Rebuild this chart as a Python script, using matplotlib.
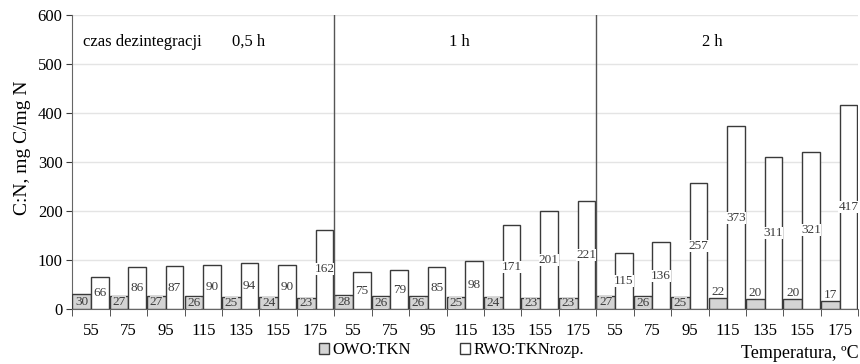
import matplotlib.pyplot as plt
import numpy as np

plt.rcParams["font.family"] = ["Liberation Serif", "DejaVu Serif"]

temperatures = [55, 75, 95, 115, 135, 155, 175]
durations = ["0,5 h", "1 h", "2 h"]
owo_tkn = [30, 27, 27, 26, 25, 24, 23,
           28, 26, 26, 25, 24, 23, 23,
           27, 26, 25, 22, 20, 20, 17]
rwo_tkn = [66, 86, 87, 90, 94, 90, 162,
           75, 79, 85, 98, 171, 201, 221,
           115, 136, 257, 373, 311, 321, 417]

edge = "#3a3a3a"
gray_fill = "#d4d4d4"

fig = plt.figure(figsize=(8.6, 3.64), dpi=100)
ax = fig.add_axes([0.084, 0.151, 0.914, 0.808])

n = len(owo_tkn)
x = np.arange(n)
ax.bar(x, owo_tkn, width=0.5, align="edge", color=gray_fill,
       edgecolor=edge, linewidth=1.0, zorder=3, label="OWO:TKN")
ax.bar(x + 0.5, rwo_tkn, width=0.47, align="edge", color="white",
       edgecolor=edge, linewidth=1.0, zorder=3, label="RWO:TKNrozp.")

label_kw = dict(ha="center", va="center", fontsize=9.5, color="#3c3c3c",
                zorder=5)
for i, v in enumerate(owo_tkn):
    if v <= 22:
        ax.text(i + 0.25, v + 12, str(v), **label_kw)
    else:
        ax.text(i + 0.25, v / 2, str(v),
                bbox=dict(facecolor=gray_fill, edgecolor="none", pad=0.0),
                **label_kw)
for i, v in enumerate(rwo_tkn):
    ax.text(i + 0.735, v / 2, str(v),
            bbox=dict(facecolor="white", edgecolor="none", pad=0.0),
            **label_kw)

# duration group separators
group = len(temperatures)
for b in range(1, len(durations)):
    ax.axvline(b * group, color="#555555", linewidth=1.0, zorder=4)

ax.set_xlim(0, n)
ax.set_ylim(0, 600)
ax.set_yticks(range(0, 601, 100))
ax.yaxis.grid(True, color="#e4e4e4", linewidth=1.0, zorder=0)
ax.set_xticks(x + 0.5)
ax.set_xticklabels([str(t) for t in temperatures] * len(durations))
ax.set_xticks(np.arange(n + 1), minor=True)
ax.tick_params(axis="x", which="major", length=0, pad=10, labelsize=12)
ax.tick_params(axis="x", which="minor", length=5, color=edge, direction="out")
ax.tick_params(axis="y", length=4, color=edge, labelsize=12, pad=3)

for side in ["top", "right"]:
    ax.spines[side].set_visible(False)
ax.spines["left"].set_color("#666666")
ax.spines["bottom"].set_color("#666666")
ax.axhline(600, color="#d0d0d0", linewidth=1.2, zorder=1)

ax.set_ylabel("C:N, mg C/mg N", fontsize=14, labelpad=4)
ax.yaxis.set_label_coords(-0.052, 0.55)

ax.text(0.3, 545, "czas dezintegracji", fontsize=12, va="center")
header_x = [4.7, 10.35, 17.1]
for xc, d in zip(header_x, durations):
    ax.text(xc, 545, d, fontsize=12, va="center", ha="center")

fig.legend(loc="lower center", bbox_to_anchor=(0.525, -0.025), ncol=2,
           frameon=False, fontsize=12, handlelength=0.6, handleheight=0.6,
           handletextpad=0.2, columnspacing=3.0)
fig.text(0.998, 0.005, "Temperatura, ºC", fontsize=13, ha="right", va="bottom")

fig.savefig("out.png", dpi=100)
